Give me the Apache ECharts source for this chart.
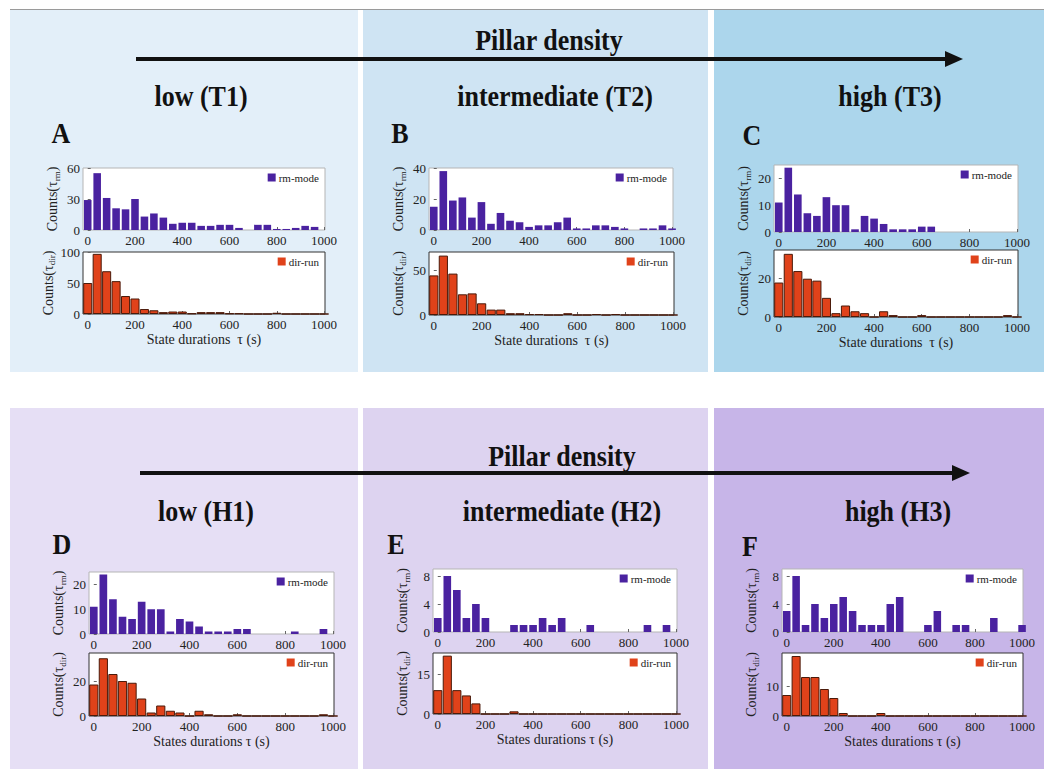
<!DOCTYPE html>
<html><head><meta charset="utf-8">
<script src="https://cdn.jsdelivr.net/npm/echarts@6/dist/echarts.min.js"></script>
<style>html,body{margin:0;padding:0;background:#fff}#c{width:1044px;height:769px}</style>
</head><body><div id="c"></div>
<script>
// ---------- data ----------
const binCenters = [0,40,80,120,160,200,240,280,320,360,400,440,480,520,560,600,640,680,720,760,800,840,880,920,960,1000];
const xTickLabels = [0,200,400,600,800,1000];

const rmT1  = [29,55,31,21,20,30,13,16,12,6,7,7,4,4,5,5,2,0,5,5,1,1,2,4,3,0];
const dirT1 = [50,97,69,53,29,25,8,6,3,4,4,1,3,3,3,1,1,0,0,0,2,0,0,0,0,0];
const rmT2  = [15,38,19,21,8,18,4,11,6,5,2,3,3,5,8,1,1,3,3,2,1,0,1,1,3,1];
const dirT2 = [44,66,46,23,24,13,6,6,2,2,1,1,0,0,2,0,0,1,0,1,0,0,0,0,0,0];
const rmT3  = [11,24,14,7,6,13,10,10,1,6,5,3,1,1,1,2,2,0,0,0,0,0,0,0,0,0];
const dirT3 = [18,33,24,20,19,10,2,6,3,2,0,3,1,0,0,1,0,0,0,0,0,0,0,0,1,0];
const rmH1  = [11,24,14,7,6,13,10,10,1,6,5,3,1,1,1,2,2,0,0,0,0,1,0,0,2,0];
const dirH1 = [18,33,24,20,19,10,2,6,3,2,0,3,1,0,0,1,0,0,0,0,0,0,0,0,1,0];
const rmH2  = [2,8,6,2,4,2,0,0,1,1,1,2,1,2,0,0,1,0,0,0,0,0,1,0,1,0];
const dirH2 = [9,22,9,7,4,0,0,0,1,0,0,0,0,0,0,0,0,0,0,0,0,0,0,0,0,0];
const rmH3  = [3,8,1,4,2,4,5,3,1,1,1,4,5,0,0,1,3,0,1,1,0,0,2,0,0,1];
const dirH3 = [7,20,13,13,9,6,1,0,0,0,1,0,0,0,0,0,0,0,0,0,0,0,0,0,0,0];

const yTicksT1rm = [0,30,60],  yTicksT1dir = [0,50,100];
const yTicksT2rm = [0,20,40],  yTicksT2dir = [0,50];
const yTicksT3rm = [0,10,20],  yTicksT3dir = [0,20];
const yTicksH1rm = [0,10,20],  yTicksH1dir = [0,20];
const yTicksH2rm = [0,4,8],    yTicksH2dir = [0,15];
const yTicksH3rm = [0,4,8],    yTicksH3dir = [0,10];
const yMaxRm  = [60,40,25,25,9,9];
const yMaxDir = [100,70,35,36,23,21];

const seriesRm  = [rmT1, rmT2, rmT3, rmH1, rmH2, rmH3];
const seriesDir = [dirT1, dirT2, dirT3, dirH1, dirH2, dirH3];
const ticksRm   = [yTicksT1rm, yTicksT2rm, yTicksT3rm, yTicksH1rm, yTicksH2rm, yTicksH3rm];
const ticksDir  = [yTicksT1dir, yTicksT2dir, yTicksT3dir, yTicksH1dir, yTicksH2dir, yTicksH3dir];
const xNames = ['State durations  τ (s)','State durations  τ (s)','State durations  τ (s)',
                'States durations τ (s)','States durations τ (s)','States durations τ (s)'];
const rmName = 'rm-mode', dirName = 'dir-run';

// ---------- layout ----------
const boxes = [
  {top:[83,168,242,62],  bot:[83,252,242,62]},
  {top:[429,168,244,62], bot:[429,252,245,63]},
  {top:[774,165,244,67], bot:[774,250,244,67]},
  {top:[89,572,245,62],  bot:[89,653,245,63]},
  {top:[433,569,244,63], bot:[433,653,244,61]},
  {top:[782,569,241,63], bot:[782,653,241,63]}
];
const FONT = "'Liberation Serif','DejaVu Serif',serif";
const W = 1044;

const grid = [], xAxis = [], yAxis = [], series = [], legend = [];
function addChart(box, vals, ticks, yMax, isRm, xName) {
  const i = grid.length;
  const [l, t, w, h] = box;
  grid.push({left:l, top:t, width:w, height:h, show:true, backgroundColor:'#fff',
    borderColor: isRm ? '#b5b5b5' : '#333', borderWidth:1, containLabel:false});
  xAxis.push({gridIndex:i, type:'value', min:-20, max:1004,
    axisLine:{show:false}, splitLine:{show:false},
    axisTick:{show:true, inside:true, length:3, customValues:xTickLabels, lineStyle:{color:'#666'}},
    axisLabel:{customValues:xTickLabels, formatter: v => String(v), fontFamily:FONT, fontSize:13, color:'#222', margin:4},
    name: xName || '', nameLocation:'middle', nameGap:18,
    nameTextStyle:{fontFamily:FONT, fontSize:14, color:'#222'}});
  const sub = isRm ? 'rm' : 'dir';
  yAxis.push({gridIndex:i, type:'value', min:0, max:yMax,
    axisLine:{show:false}, splitLine:{show:false},
    axisTick:{show:true, inside:true, length:3, customValues:ticks, lineStyle:{color:'#666'}},
    axisLabel:{customValues:ticks, formatter: v => String(v), fontFamily:FONT, fontSize:13, color:'#222', margin:3},
    name:'{a|Counts(τ}{s|' + sub + '}{a|)}', nameLocation:'middle', nameRotate:90, nameGap:22,
    nameTextStyle:{fontFamily:FONT, fontSize:14, color:'#222',
      rich:{a:{fontFamily:FONT, fontSize:14, color:'#222'},
            s:{fontFamily:FONT, fontSize:9, color:'#222', verticalAlign:'bottom', padding:[8,0,0,0]}}}});
  const name = isRm ? rmName : dirName;
  series.push({type:'bar', name:name, xAxisIndex:i, yAxisIndex:i, clip:true, silent:true,
    barWidth: isRm ? '80%' : '96%',
    itemStyle: isRm ? {color:'#4a22a0'} : {color:'#e0421a', borderColor:'#4a1a0a', borderWidth:1},
    data: binCenters.map((x, k) => [x, vals[k]])});
  legend.push({data:[name], right: W - (l + w) + 6, top: t + 4, padding:0, itemGap:0,
    itemWidth:8, itemHeight:8, icon:'rect', selectedMode:false,
    itemStyle:{borderWidth:0},
    textStyle:{fontFamily:FONT, fontSize:11, color:'#222', padding:[0,0,0,-2]}});
}
for (let p = 0; p < 6; p++) {
  addChart(boxes[p].top, seriesRm[p], ticksRm[p], yMaxRm[p], true, '');
  addChart(boxes[p].bot, seriesDir[p], ticksDir[p], yMaxDir[p], false, xNames[p]);
}

// ---------- decorations ----------
const bg = [
  [10,10,348,362,'#e3eff9'],[363,10,345,362,'#cfe4f3'],[714,10,330,362,'#acd6ec'],
  [10,408,348,361,'#e6dff5'],[363,408,345,361,'#ddd3f0'],[714,408,330,361,'#c7b5e8']
];
const headers = [
  ['Pillar density',549,40],['low (T1)',201,96],['intermediate (T2)',555,96],['high (T3)',890,96],
  ['Pillar density',562,456],['low (H1)',206,511],['intermediate (H2)',562,511],['high (H3)',898,511]
];
const letters = [['A',61,133],['B',400,133],['C',752,135],['D',62,544],['E',396,544],['F',750,546]];
const graphic = [];
bg.forEach(b => graphic.push({type:'rect', z:-100, shape:{x:b[0],y:b[1],width:b[2],height:b[3]}, style:{fill:b[4]}, silent:true}));
graphic.push({type:'line', z:-90, shape:{x1:10,y1:9.5,x2:1044,y2:9.5}, style:{stroke:'#9a9a9a', lineWidth:1}});
[[136,945,963,59],[140,952,970,473]].forEach(a => {
  graphic.push({type:'line', z:50, shape:{x1:a[0],y1:a[3],x2:a[1]+2,y2:a[3]}, style:{stroke:'#111', lineWidth:4}});
  graphic.push({type:'polygon', z:50, shape:{points:[[a[1],a[3]-8],[a[2],a[3]],[a[1],a[3]+8]]}, style:{fill:'#111'}});
});
headers.forEach(h => graphic.push({type:'text', z:50, x:h[1], y:h[2], scaleY:1.12,
  style:{text:h[0], font:'bold 26px ' + FONT, fill:'#111', textAlign:'center', textVerticalAlign:'middle', align:'center', verticalAlign:'middle'}}));
letters.forEach(h => graphic.push({type:'text', z:50, x:h[1], y:h[2], scaleY:1.12,
  style:{text:h[0], font:'bold 26px ' + FONT, fill:'#111', textAlign:'center', textVerticalAlign:'middle', align:'center', verticalAlign:'middle'}}));

const chart = echarts.init(document.getElementById('c'), null, {renderer:'svg', width:1044, height:769});
chart.setOption({animation:false, backgroundColor:'#fff', graphic:graphic,
  grid:grid, xAxis:xAxis, yAxis:yAxis, series:series, legend:legend});
</script></body></html>
